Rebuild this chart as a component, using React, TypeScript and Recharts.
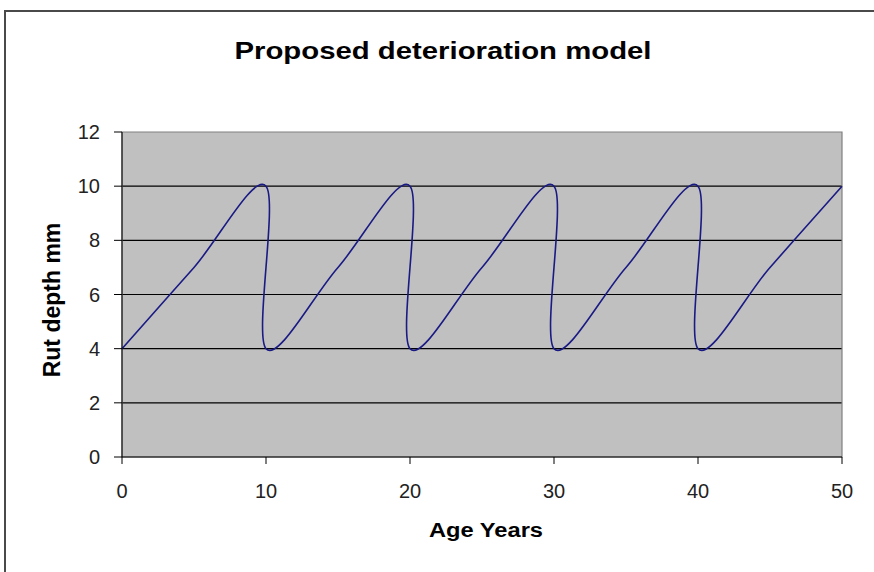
import { CartesianGrid, Line, LineChart, ReferenceArea, XAxis, YAxis } from "recharts";

// values: a saw-tooth, rut depth climbs 4 -> 10 mm, then resets
const AGE_YEARS = [0, 5, 10, 10, 15, 20, 20, 25, 30, 30, 35, 40, 40, 45, 50];
const RUT_DEPTH = [4, 7, 10, 4, 7, 10, 4, 7, 10, 4, 7, 10, 4, 7, 10];
const X_TICKS = [0, 10, 20, 30, 40, 50];
const Y_TICKS = [0, 2, 4, 6, 8, 10, 12];
const GRID_VALUES = [2, 4, 6, 8, 10];

const data = AGE_YEARS.map((age, i) => ({ age, rut: RUT_DEPTH[i] }));

const FONT = "'Liberation Sans', Arial, sans-serif";

// Excel-like smoothed line: Catmull-Rom style bezier (tension 1/6), works with repeated x
const excelSmooth = (context: any) => {
  let xs: number[] = [];
  let ys: number[] = [];
  return {
    areaStart() {},
    areaEnd() {},
    lineStart() {
      xs = [];
      ys = [];
    },
    point(x: number, y: number) {
      xs.push(+x);
      ys.push(+y);
    },
    lineEnd() {
      const n = xs.length;
      if (!n) return;
      context.moveTo(xs[0], ys[0]);
      for (let i = 0; i < n - 1; i++) {
        const a = Math.max(i - 1, 0);
        const d = Math.min(i + 2, n - 1);
        const c1x = xs[i] + (xs[i + 1] - xs[a]) / 6;
        const c1y = ys[i] + (ys[i + 1] - ys[a]) / 6;
        const c2x = xs[i + 1] - (xs[d] - xs[i]) / 6;
        const c2y = ys[i + 1] - (ys[d] - ys[i]) / 6;
        context.bezierCurveTo(c1x, c1y, c2x, c2y, xs[i + 1], ys[i + 1]);
      }
    },
  };
};

export default function App() {
  return (
    <div
      style={{
        position: "absolute",
        left: 0,
        top: 0,
        width: 874,
        height: 572,
        overflow: "hidden",
        background: "#fff",
      }}
    >
      <div
        style={{
          position: "absolute",
          left: 4,
          top: 10,
          width: 900,
          height: 600,
          border: "2px solid #4a4a4a",
        }}
      />
      <div style={{ position: "absolute", left: 0, top: 0 }}>
        <LineChart width={874} height={572} data={data} margin={{ top: 132, right: 32, bottom: 55, left: 62 }}>
          <CartesianGrid
            fill="#C0C0C0"
            fillOpacity={1}
            stroke="#000"
            strokeWidth={1.2}
            vertical={false}
            horizontalValues={GRID_VALUES}
          />
          <ReferenceArea x1={0} x2={50} y1={0} y2={12} fill="none" stroke="#808080" strokeWidth={1.2} />
          <XAxis
            type="number"
            dataKey="age"
            domain={[0, 50]}
            ticks={X_TICKS}
            height={60}
            tickSize={7}
            tickMargin={20}
            stroke="#000"
            tick={{ fill: "#222", fontSize: 20, fontFamily: FONT }}
          />
          <YAxis
            type="number"
            domain={[0, 12]}
            ticks={Y_TICKS}
            width={60}
            tickSize={8}
            tickMargin={14}
            stroke="#000"
            tick={{ fill: "#222", fontSize: 20, fontFamily: FONT }}
          />
          <Line
            type={excelSmooth as any}
            dataKey="rut"
            stroke="#1a1a85"
            strokeWidth={1.6}
            dot={false}
            activeDot={false}
            isAnimationActive={false}
          />
          <text
            x={443}
            y={59}
            textAnchor="middle"
            fontFamily={FONT}
            fontWeight="bold"
            fontSize={23}
            textLength={417}
            lengthAdjust="spacingAndGlyphs"
          >
            Proposed deterioration model
          </text>
          <text
            x={486}
            y={537}
            textAnchor="middle"
            fontFamily={FONT}
            fontWeight="bold"
            fontSize={20}
            textLength={114}
            lengthAdjust="spacingAndGlyphs"
          >
            Age Years
          </text>
          <text
            x={60}
            y={300}
            transform="rotate(-90, 60, 300)"
            textAnchor="middle"
            fontFamily={FONT}
            fontWeight="bold"
            fontSize={23}
          >
            Rut depth mm
          </text>
        </LineChart>
      </div>
    </div>
  );
}
